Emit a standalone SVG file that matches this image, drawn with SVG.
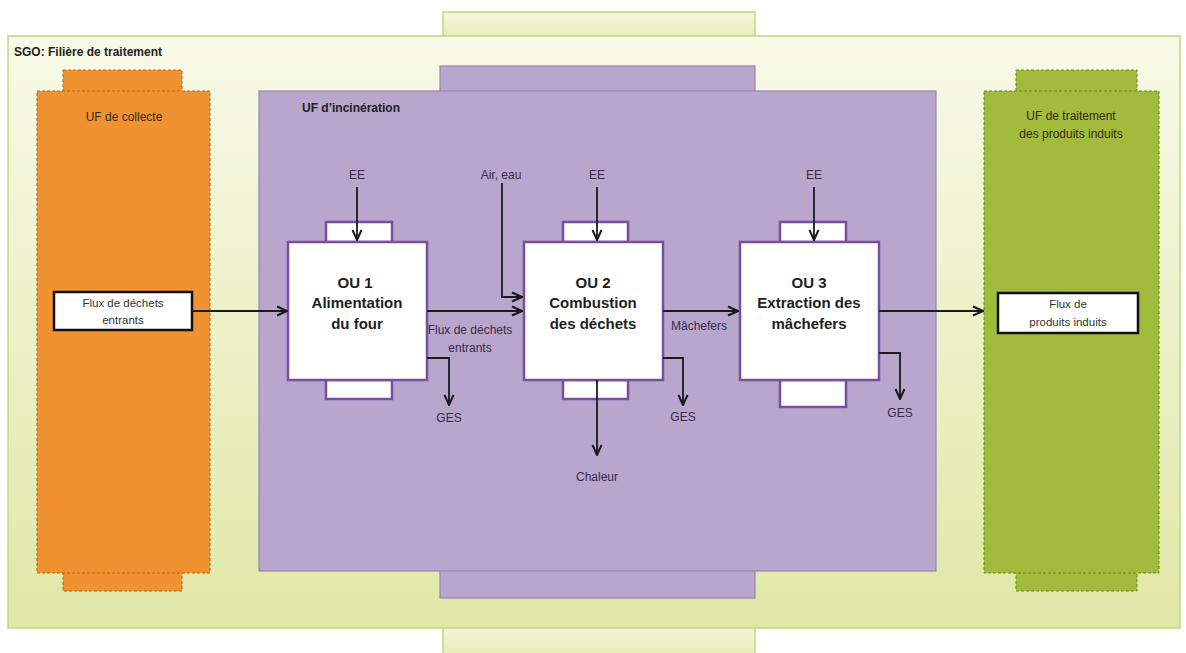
<svg xmlns="http://www.w3.org/2000/svg" width="1186" height="653" viewBox="0 0 1186 653">
<defs>
<linearGradient id="gOuter" x1="0" y1="0" x2="0" y2="1"><stop offset="0" stop-color="#f8fae8"/><stop offset="1" stop-color="#e0e8a6"/></linearGradient>
<linearGradient id="gTab" x1="0" y1="0" x2="0" y2="1"><stop offset="0" stop-color="#f4f7da"/><stop offset="1" stop-color="#e6edb6"/></linearGradient>
<marker id="arr" viewBox="0 0 12 12" refX="11" refY="6" markerWidth="12" markerHeight="12" markerUnits="userSpaceOnUse" orient="auto">
<polyline points="1,1.5 11,6 1,10.5" fill="none" stroke="#1a1a1a" stroke-width="2"/>
</marker>
<style>
.outer{fill:url(#gOuter);stroke:#c4d585;stroke-width:1.5}
.tab{fill:url(#gTab);stroke:#c4d585;stroke-width:1.5}
.org{fill:#f0922f;stroke:#b8651c;stroke-width:1;stroke-dasharray:3 2}
.grn{fill:#a2bb3d;stroke:#6a8520;stroke-width:1;stroke-dasharray:3 2}
.pur{fill:#b9a6cd;stroke:#9a82b4;stroke-width:1.2}
.ou{fill:#ffffff;stroke:#7a4e9e;stroke-width:2.5}
.flux{fill:#ffffff;stroke:#111111;stroke-width:2.5}
.ca{fill:none;stroke:#1a1a1a;stroke-width:1.8;marker-end:url(#arr)}
text{font-family:"Liberation Sans",Arial,sans-serif}
.t1{font-size:12px;font-weight:bold;fill:#222}
.t2{font-size:12px;fill:#3a2a45;text-anchor:middle}
.t3{font-size:15px;font-weight:bold;fill:#1e1e1e;text-anchor:middle}
.t4{font-size:11.5px;fill:#333;text-anchor:middle}
.tu{font-size:12px;fill:#3a2a10;text-anchor:middle}
</style>
</defs>
<rect width="1186" height="653" fill="#ffffff"/>

<g id="sgo">
<rect class="tab" x="443" y="12" width="312" height="26"/>
<rect class="tab" x="443" y="626" width="312" height="30"/>
<rect class="outer" x="8" y="36" width="1172" height="592"/>
<text class="t1" x="14" y="56">SGO: Filière de traitement</text>
</g>

<g id="uf-collecte">
<rect class="org" x="63" y="70" width="119" height="22"/>
<rect class="org" x="63" y="570" width="119" height="21"/>
<rect class="org" x="37" y="91" width="173" height="482"/>
<text class="tu" x="124" y="121">UF de collecte</text>
</g>

<g id="uf-incineration">
<rect class="pur" x="440" y="66" width="315" height="27"/>
<rect class="pur" x="440" y="568" width="315" height="30"/>
<rect class="pur" x="259" y="91" width="677" height="480"/>
<text class="t1" x="302" y="112">UF d’incinération</text>
</g>

<g id="uf-traitement">
<rect class="grn" x="1016" y="70" width="121" height="22"/>
<rect class="grn" x="1016" y="570" width="121" height="21"/>
<rect class="grn" x="984" y="91" width="175" height="482"/>
<text class="tu" x="1071" y="120">UF de traitement</text>
<text class="tu" x="1071" y="138">des produits induits</text>
</g>

<g id="flux-entrants">
<rect class="flux" x="54" y="292" width="138" height="38"/>
<text class="t4" x="123" y="307">Flux de déchets</text>
<text class="t4" x="123" y="324">entrants</text>
</g>

<g id="flux-produits">
<rect class="flux" x="998" y="293" width="140" height="40"/>
<text class="t4" x="1068" y="308">Flux de</text>
<text class="t4" x="1068" y="326">produits induits</text>
</g>

<g id="ou1">
<rect class="ou" x="326" y="222" width="66" height="20"/>
<rect class="ou" x="326" y="380" width="66" height="19"/>
<rect class="ou" x="288" y="242" width="139" height="138"/>
<text class="t3" x="355" y="288">OU 1</text>
<text class="t3" x="357" y="308">Alimentation</text>
<text class="t3" x="357" y="329">du four</text>
</g>

<g id="ou2">
<rect class="ou" x="563" y="222" width="65" height="20"/>
<rect class="ou" x="563" y="380" width="65" height="19"/>
<rect class="ou" x="524" y="242" width="139" height="138"/>
<text class="t3" x="593" y="288">OU 2</text>
<text class="t3" x="593" y="308">Combustion</text>
<text class="t3" x="593" y="329">des déchets</text>
</g>

<g id="ou3">
<rect class="ou" x="780" y="222" width="66" height="20"/>
<rect class="ou" x="780" y="380" width="66" height="27"/>
<rect class="ou" x="740" y="242" width="139" height="138"/>
<text class="t3" x="809" y="288">OU 3</text>
<text class="t3" x="809" y="308">Extraction des</text>
<text class="t3" x="809" y="329">mâchefers</text>
</g>

<g id="labels">
<text class="t2" x="357" y="179">EE</text>
<text class="t2" x="501" y="179">Air, eau</text>
<text class="t2" x="597" y="179">EE</text>
<text class="t2" x="814" y="179">EE</text>
<text class="t2" x="470" y="334">Flux de déchets</text>
<text class="t2" x="470" y="352">entrants</text>
<text class="t2" x="699" y="330">Mâchefers</text>
<text class="t2" x="449" y="422">GES</text>
<text class="t2" x="683" y="421">GES</text>
<text class="t2" x="900" y="417">GES</text>
<text class="t2" x="597" y="481">Chaleur</text>
</g>

<g id="connectors">
<line class="ca" x1="192" y1="311" x2="287" y2="311"/>
<line class="ca" x1="357" y1="187" x2="357" y2="240"/>
<line class="ca" x1="597" y1="187" x2="597" y2="240"/>
<line class="ca" x1="814" y1="187" x2="814" y2="240"/>
<polyline class="ca" points="502,183 502,297 522,297"/>
<line class="ca" x1="427" y1="311" x2="522" y2="311"/>
<line class="ca" x1="663" y1="311" x2="738" y2="311"/>
<line class="ca" x1="879" y1="311" x2="983" y2="311"/>
<polyline class="ca" points="427,358 449,358 449,405"/>
<polyline class="ca" points="663,358 683,358 683,405"/>
<polyline class="ca" points="879,353 900,353 900,399"/>
<line class="ca" x1="597" y1="380" x2="597" y2="455"/>
</g>
</svg>
